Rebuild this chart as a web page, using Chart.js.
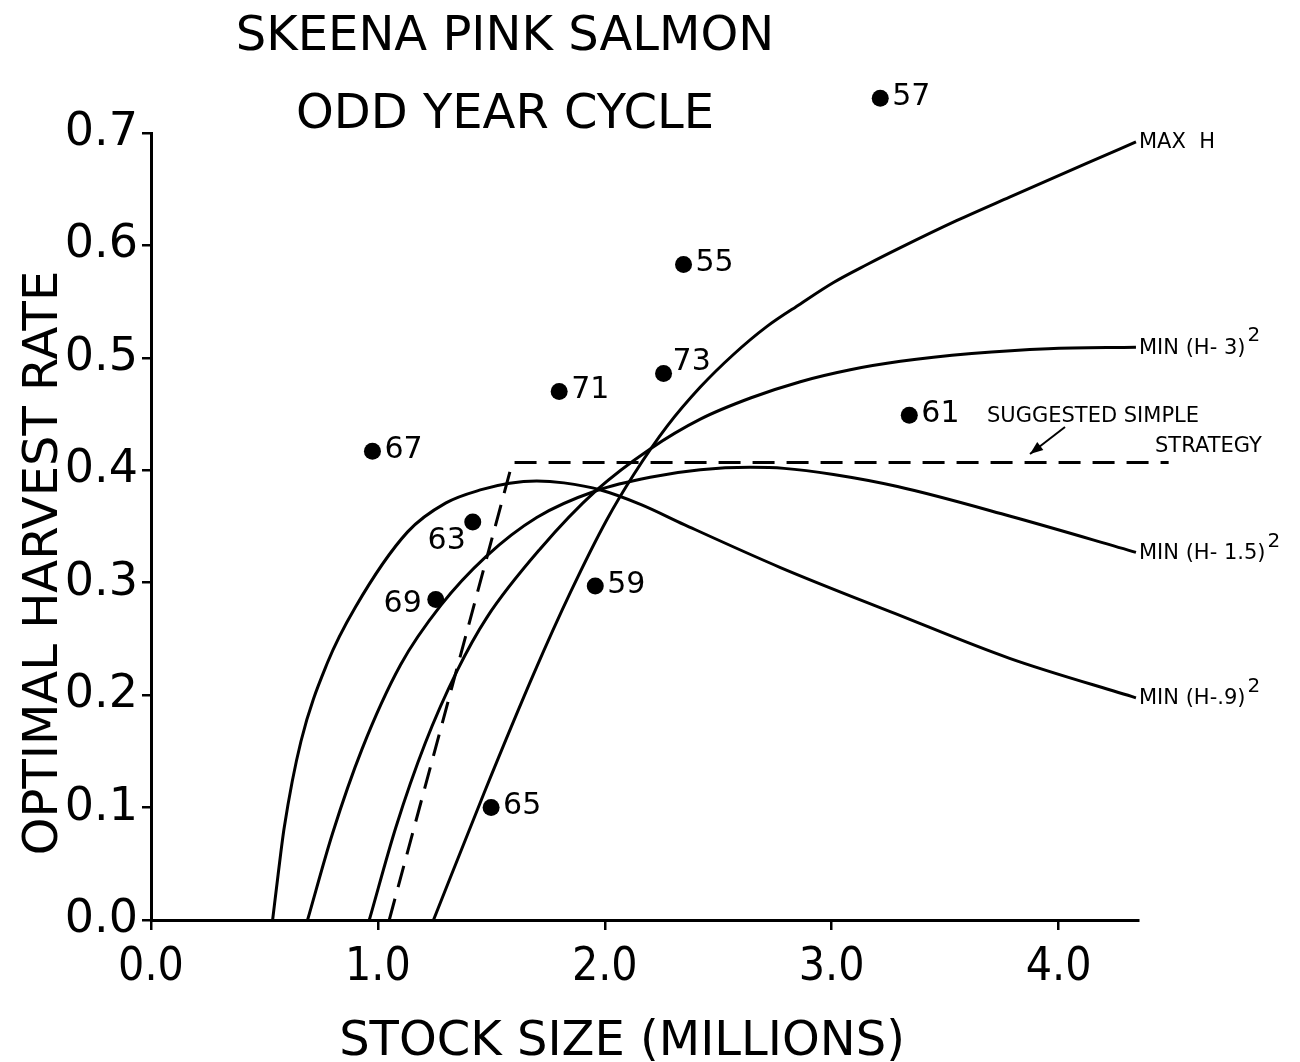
<!DOCTYPE html>
<html>
<head>
<meta charset="utf-8">
<title>Skeena pink salmon - odd year cycle</title>
<script src="https://cdn.jsdelivr.net/npm/chart.js@4.4.1/dist/chart.umd.min.js"></script>
<style>
    html, body { margin: 0; padding: 0; background: #fff; }
    #id_wrap { width: 1300px; height: 1062px; position: relative; }
</style>
</head>
<body>
<div id="id_wrap"><canvas id="id_harvest"></canvas></div>
<script>
// observed year classes: stock size (millions) and harvest rate
var years = ['55', '57', '59', '61', '63', '65', '67', '69', '71', '73'];
var stock = [2.347, 3.214, 1.958, 3.342, 1.418, 1.499, 0.976, 1.255, 1.799, 2.259];
var rate = [0.583, 0.731, 0.297, 0.449, 0.354, 0.100, 0.417, 0.285, 0.470, 0.486];

// optimal harvest rate curves
var maxHX = [1.245, 1.468, 1.689, 1.85, 2.009, 2.127, 2.274, 2.421, 2.567, 2.715, 2.862, 3.008, 3.156, 3.303, 3.55, 3.784, 4.123, 4.341];
var maxHY = [0.000, 0.113, 0.220, 0.292, 0.356, 0.396, 0.439, 0.474, 0.503, 0.528, 0.548, 0.567, 0.583, 0.598, 0.622, 0.643, 0.673, 0.692];

var h3X = [0.962, 1.08, 1.208, 1.35, 1.48, 1.715, 1.965, 2.2, 2.421, 2.645, 2.862, 3.082, 3.303, 3.617, 3.954, 4.341];
var h3Y = [0.000, 0.083, 0.157, 0.222, 0.269, 0.330, 0.3825, 0.419, 0.4455, 0.4645, 0.4788, 0.4894, 0.4969, 0.5038, 0.5082, 0.5094];

var h15X = [0.69, 0.80, 0.93, 1.10, 1.278, 1.475, 1.70, 1.965, 2.2, 2.421, 2.64, 2.79, 3.008, 3.29, 3.784, 4.341];
var h15Y = [0.000, 0.077, 0.152, 0.227, 0.280, 0.323, 0.358, 0.382, 0.3938, 0.4004, 0.4026, 0.4017, 0.3962, 0.3855, 0.3593, 0.327];

var h09X = [0.536, 0.56, 0.587, 0.661, 0.778, 0.90, 1.13, 1.30, 1.46, 1.58, 1.70, 1.82, 1.982, 2.16, 2.35, 2.774, 3.278, 3.784, 4.341];
var h09Y = [0.000, 0.040, 0.082, 0.159, 0.229, 0.278, 0.345, 0.371, 0.383, 0.3885, 0.3905, 0.3888, 0.3825, 0.3695, 0.3517, 0.3135, 0.2727, 0.2327, 0.1976];

// suggested simple strategy
var simpleX = [1.05, 1.593, 4.485];
var simpleY = [0.000, 0.407, 0.407];

var curveNames = ['MAX  H', 'MIN (H- 3)', 'MIN (H- 1.5)', 'MIN (H-.9)'];

var xTicks = [0, 1, 2, 3, 4];
var yTicks = [0, 0.1, 0.2, 0.3, 0.4, 0.5, 0.6, 0.7];

(function() {
    "use strict";
    var FONT = "'DejaVu Sans', 'Liberation Sans', sans-serif";
    var NARROW = "'DejaVu Sans Condensed', 'Liberation Sans Narrow', 'DejaVu Sans', sans-serif";

    var toXY = function(xs, ys) {
        return xs.map(function(x, i) { return {x: x, y: ys[i]}; });
    };

    var curve = function(xs, ys) {
        return {
            type: 'line',
            data: toXY(xs, ys),
            borderColor: '#000',
            borderWidth: 3,
            pointRadius: 0,
            fill: false,
            cubicInterpolationMode: 'monotone'
        };
    };

    // label offsets for the year points (most sit right of the dot)
    var labelPlace = {
        '63': {dx: -7, dy: 19, align: 'right'},
        '69': {dx: -14, dy: 5, align: 'right'},
        '73': {dx: 9, dy: -11, align: 'left'}
    };

    var annotate = {
        id: 'annotate',
        afterDatasetsDraw: function(chart) {
            var ctx = chart.ctx;
            var area = chart.chartArea;
            ctx.save();
            ctx.fillStyle = '#000';
            ctx.strokeStyle = '#000';

            // titles
            ctx.font = '48px ' + FONT;
            ctx.textAlign = 'center';
            ctx.textBaseline = 'alphabetic';
            ctx.fillText('SKEENA PINK SALMON', 505, 50);
            ctx.fillText('ODD YEAR CYCLE', 505, 128);
            ctx.fillText('STOCK SIZE (MILLIONS)', 622, 1055);
            ctx.save();
            ctx.translate(57, 563);
            ctx.rotate(-Math.PI / 2);
            ctx.fillText('OPTIMAL HARVEST RATE', 0, 0);
            ctx.restore();

            // year points: the ones above the axis top are skipped by chart.js, draw them here
            var pts = chart.getDatasetMeta(5).data;
            pts.forEach(function(p) {
                if (p.y < area.top || p.y > area.bottom) {
                    p.draw(ctx);
                }
            });
            ctx.fillStyle = '#000';
            ctx.font = '30px ' + FONT;
            ctx.textBaseline = 'middle';
            pts.forEach(function(p, i) {
                var pl = labelPlace[years[i]] || {dx: 12, dy: -1, align: 'left'};
                ctx.textAlign = pl.align;
                ctx.fillText(years[i], p.x + pl.dx, p.y + pl.dy);
            });

            // curve end labels
            ctx.textAlign = 'left';
            for (var i = 0; i < 4; i++) {
                var d = chart.getDatasetMeta(i).data;
                var last = d[d.length - 1];
                ctx.font = '21px ' + FONT;
                ctx.textBaseline = 'middle';
                ctx.fillText(curveNames[i], last.x + 3, last.y + 1);
                if (i > 0) {
                    var w = ctx.measureText(curveNames[i]).width;
                    ctx.font = '20px ' + FONT;
                    ctx.fillText('2', last.x + 5 + w, last.y - 11);
                }
            }

            // suggested simple strategy note with arrow
            ctx.font = '21px ' + FONT;
            ctx.textBaseline = 'alphabetic';
            ctx.fillText('SUGGESTED SIMPLE', 987, 422);
            ctx.fillText('STRATEGY', 1155, 452);
            var x0 = 1065, y0 = 427, x1 = 1030, y1 = 454;
            ctx.lineWidth = 2;
            ctx.beginPath();
            ctx.moveTo(x0, y0);
            ctx.lineTo(x1, y1);
            ctx.stroke();
            var ang = Math.atan2(y1 - y0, x1 - x0);
            ctx.beginPath();
            ctx.moveTo(x1, y1);
            ctx.lineTo(x1 - 13 * Math.cos(ang) + 5 * Math.sin(ang), y1 - 13 * Math.sin(ang) - 5 * Math.cos(ang));
            ctx.lineTo(x1 - 13 * Math.cos(ang) - 5 * Math.sin(ang), y1 - 13 * Math.sin(ang) + 5 * Math.cos(ang));
            ctx.closePath();
            ctx.fill();
            ctx.restore();
        }
    };

    var simple = curve(simpleX, simpleY);
    simple.cubicInterpolationMode = 'default';
    simple.tension = 0;
    simple.borderDash = [22, 12];
    simple.clip = false;

    var ctx = document.getElementById('id_harvest').getContext('2d');
    var harvestChart = new Chart(ctx, {
        type: 'scatter',
        data: {
            datasets: [
                curve(maxHX, maxHY),
                curve(h3X, h3Y),
                curve(h15X, h15Y),
                curve(h09X, h09Y),
                simple,
                {
                    type: 'scatter',
                    data: toXY(stock, rate),
                    backgroundColor: '#000',
                    borderColor: '#000',
                    borderWidth: 0,
                    pointRadius: 8.5,
                    clip: false
                }
            ]
        },
        options: {
            responsive: true,
            maintainAspectRatio: false,
            animation: false,
            layout: {padding: {top: 133, right: 162, left: 0, bottom: 0}},
            plugins: {legend: {display: false}, tooltip: {enabled: false}},
            scales: {
                x: {
                    type: 'linear',
                    min: 0,
                    max: 4.35,
                    afterFit: function(scale) { scale.height = 142; },
                    afterBuildTicks: function(scale) {
                        scale.ticks = xTicks.map(function(v) { return {value: v}; });
                    },
                    ticks: {
                        color: '#000',
                        padding: 10,
                        maxRotation: 0,
                        font: {family: NARROW, size: 46},
                        callback: function(v) { return v.toFixed(1); }
                    },
                    grid: {drawOnChartArea: false, drawTicks: true, tickLength: 10, color: '#000', lineWidth: 2.5},
                    border: {color: '#000', width: 3}
                },
                y: {
                    type: 'linear',
                    min: 0,
                    max: 0.7,
                    afterFit: function(scale) { scale.width = 151; },
                    afterBuildTicks: function(scale) {
                        scale.ticks = yTicks.map(function(v) { return {value: v}; });
                    },
                    ticks: {
                        color: '#000',
                        padding: 4,
                        font: {family: FONT, size: 46},
                        callback: function(v) { return v.toFixed(1); }
                    },
                    grid: {drawOnChartArea: false, drawTicks: true, tickLength: 9, color: '#000', lineWidth: 2.5},
                    border: {color: '#000', width: 3}
                }
            }
        },
        plugins: [annotate]
    });
})();
</script>
</body>
</html>
